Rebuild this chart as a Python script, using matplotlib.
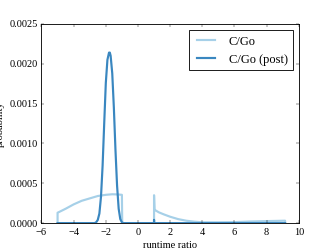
import numpy as np
import matplotlib
matplotlib.use('Agg')
import matplotlib.pyplot as plt

plt.style.use('classic')
plt.rcParams['font.family'] = ['Liberation Serif', 'DejaVu Serif']

# C/Go runtime ratio density
cgo_x = [-5.0, -5.0, -4.5, -4.0, -3.5, -3.0, -2.5, -2.0, -1.6, -1.3, -1.0, -0.98,
         1.0, 1.0, 1.03, 1.3, 1.6, 2.0, 2.5, 3.0, 3.5, 4.0, 5.0, 6.0, 7.0, 8.0, 9.15, 9.15]
cgo_y = [0.0, 0.00013, 0.00018, 0.000235, 0.00028, 0.00031, 0.00034, 0.000355, 0.000362, 0.00036, 0.000355, 0.0,
         0.0, 0.00035, 0.000167, 0.000135, 0.00011, 0.00008, 0.00005, 0.00003, 0.000018, 0.00001, 0.00001, 0.000012, 0.00002, 0.000025, 0.00003, 0.0]

# C/Go (post)
post_x = [-5.0, -2.7, -2.6, -2.5, -2.4, -2.3, -2.2, -2.1, -2.0, -1.9, -1.8, -1.75,
          -1.7, -1.6, -1.5, -1.4, -1.3, -1.2, -1.1, -1.0, -0.9, 1.0, 1.0, 1.0, 9.15]
post_y = [0.0, 0.0, 0.00001, 0.00004, 0.00012, 0.00033, 0.00072, 0.00125, 0.00176, 0.00205, 0.00214, 0.00214,
          0.00210, 0.00188, 0.00145, 0.00092, 0.00047, 0.00018, 0.00005, 0.00001, 0.0, 0.0, 0.00004, 0.0, 0.0]

fig = plt.figure(figsize=(5.32, 3.99))
ax = fig.add_subplot(111)
ax.plot(cgo_x, cgo_y, color='#a6d0e8', lw=2.5, label='C/Go')
ax.plot(post_x, post_y, color='#3a87c0', lw=2.5, label='C/Go (post)')
ax.set_xlim(-6, 10)
ax.set_ylim(0, 0.0025)
ax.set_xlabel('runtime ratio')
ax.set_ylabel('probability')
ax.legend(loc='upper right')
fig.savefig('out.png', dpi=62.4)
